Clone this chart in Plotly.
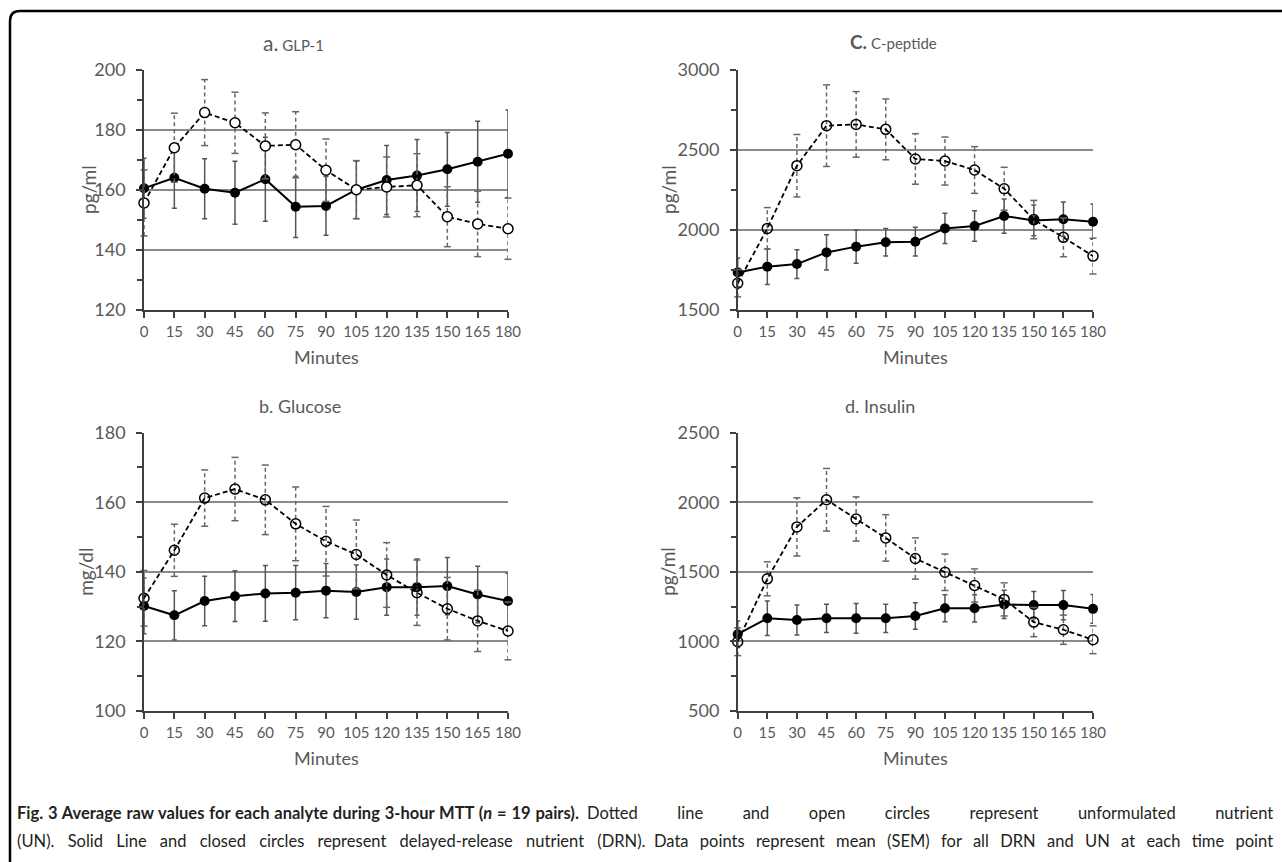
import plotly.graph_objects as go

W, H = 1282, 862

minutes = [0, 15, 30, 45, 60, 75, 90, 105, 120, 135, 150, 165, 180]

# a. GLP-1 (pg/ml)
glp1_drn = [160.6, 164.1, 160.4, 159.1, 163.6, 154.4, 154.7, 160.1, 163.3, 164.8, 166.9, 169.4, 172.1]
glp1_drn_sem = [10, 10.2, 10, 10.5, 14, 10.2, 9.8, 9.6, 11.5, 12, 12.3, 13.5, 14.6]
glp1_un = [155.7, 174.1, 185.8, 182.4, 174.7, 175.1, 166.6, 160.1, 161.0, 161.6, 151.1, 148.7, 147.1]
glp1_un_sem = [11, 11.5, 11, 10.2, 11, 11, 10.4, 9.7, 10, 10.5, 10, 10.9, 10.2]

# c. C-peptide (pg/ml)
cpep_drn = [1735, 1771, 1787, 1860, 1896, 1923, 1927, 2010, 2025, 2087, 2060, 2067, 2052]
cpep_drn_sem = [90, 112, 90, 110, 104, 86, 90, 94, 96, 107, 96, 108, 110]
cpep_un = [1667, 2010, 2402, 2652, 2660, 2629, 2444, 2431, 2375, 2258, 2065, 1954, 1837]
cpep_un_sem = [85, 130, 195, 255, 205, 190, 158, 150, 146, 134, 120, 121, 112]

# b. Glucose (mg/dl)
glu_drn = [130.2, 127.5, 131.6, 133.0, 133.8, 134.0, 134.6, 134.2, 135.6, 135.6, 135.9, 133.5, 131.6]
glu_drn_sem = [8, 7.1, 7.1, 7.3, 8, 7.8, 7.8, 7.8, 8.1, 8.1, 8.2, 8.1, 8]
glu_un = [132.4, 146.2, 161.2, 163.8, 160.7, 153.8, 148.8, 145.0, 139.1, 134.0, 129.4, 125.9, 123.0]
glu_un_sem = [8, 7.5, 8.1, 9.1, 10, 10.6, 10, 9.9, 9.3, 9.4, 9, 8.8, 8.3]

# d. Insulin (pg/ml)
ins_drn = [1052, 1166, 1154, 1166, 1166, 1166, 1183, 1238, 1238, 1266, 1261, 1261, 1234]
ins_drn_sem = [95, 124, 107, 101, 107, 101, 95, 97, 98, 102, 97, 105, 103]
ins_un = [998, 1450, 1823, 2018, 1880, 1744, 1596, 1497, 1402, 1302, 1139, 1084, 1012]
ins_un_sem = [100, 122, 209, 225, 159, 167, 148, 131, 119, 119, 105, 105, 100]

FONT = "Lato"
TXT = "#595959"
AXC = "#404040"
GRID = "#8a8a8a"


def fx(p):
    return p / W


def fy(p):
    return 1 - p / H


panels = [
    ("", glp1_drn, glp1_drn_sem, glp1_un, glp1_un_sem, [120, 200], 20, "pg/ml", True, (144, 508, 70, 310), 88),
    ("2", cpep_drn, cpep_drn_sem, cpep_un, cpep_un_sem, [1500, 3000], 500, "pg/ml", False, (737.7, 1093, 70, 310), 668),
    ("3", glu_drn, glu_drn_sem, glu_un, glu_un_sem, [100, 180], 20, "mg/dl", False, (144, 508, 432.7, 711), 86),
    ("4", ins_drn, ins_drn_sem, ins_un, ins_un_sem, [500, 2500], 500, "pg/ml", False, (737.7, 1093, 432.7, 711), 668),
]

fig = go.Figure()
layout = {}
annotations = []

for key, drn, drn_sem, un, un_sem, yr, dt, ytitle, filled, (x0, x1, y0, y1), ytx in panels:
    xa, ya = "x" + key, "y" + key
    fig.add_trace(go.Scatter(
        x=minutes, y=drn, xaxis=xa, yaxis=ya, mode="lines+markers",
        line=dict(color="black", width=2),
        marker=dict(symbol="circle", size=10, color="black"),
        error_y=dict(type="data", array=drn_sem, visible=True, color="#555555", thickness=1.5, width=2.5),
        cliponaxis=False, showlegend=False))
    ex, ey, cx, cy = [], [], [], []
    for m, v, e in zip(minutes, un, un_sem):
        ex += [m, m, None]
        ey += [v - e, v + e, None]
        cx += [m, m]
        cy += [v - e, v + e]
    fig.add_trace(go.Scatter(
        x=ex, y=ey, xaxis=xa, yaxis=ya, mode="lines",
        line=dict(color="#666666", width=1.5, dash="4px,3px"),
        cliponaxis=False, showlegend=False, hoverinfo="skip"))
    fig.add_trace(go.Scatter(
        x=cx, y=cy, xaxis=xa, yaxis=ya, mode="markers",
        marker=dict(symbol="line-ew", size=5, line=dict(color="#666666", width=1.5)),
        cliponaxis=False, showlegend=False, hoverinfo="skip"))
    if filled:
        mk = dict(symbol="circle", size=10, color="white", line=dict(color="black", width=1.5))
    else:
        mk = dict(symbol="circle-open", size=10, color="black", line=dict(width=1.5))
    fig.add_trace(go.Scatter(
        x=minutes, y=un, xaxis=xa, yaxis=ya, mode="lines+markers",
        line=dict(color="black", width=1.8, dash="5px,3px"),
        marker=mk, cliponaxis=False, showlegend=False))

    xname = "xaxis" + key
    yname = "yaxis" + key
    layout[xname] = dict(
        domain=[fx(x0), fx(x1)], range=[0, 180], anchor=ya, automargin=False,
        tickmode="array", tickvals=minutes, ticktext=[str(m) for m in minutes],
        ticks="outside", ticklen=6, tickwidth=1.5, tickcolor=AXC,
        showline=True, linecolor=AXC, linewidth=1.5, showgrid=False, zeroline=False,
        tickfont=dict(family=FONT, size=15, color=TXT), ticklabelstandoff=1)
    layout[yname] = dict(
        domain=[fy(y1), fy(y0)], range=yr, anchor=xa, dtick=dt, automargin=False,
        ticks="outside", ticklen=6, tickwidth=1.5, tickcolor=AXC,
        showline=True, linecolor=AXC, linewidth=1.5,
        showgrid=True, gridcolor=GRID, gridwidth=1.5, zeroline=False,
        minor=dict(dtick=dt / 2, ticks="outside", ticklen=5, tickwidth=1.5, tickcolor=AXC, showgrid=False),
        tickfont=dict(family=FONT, size=18, color=TXT), ticklabelstandoff=7)
    annotations.append(dict(
        text=ytitle, x=fx(ytx), y=fy((y0 + y1) / 2), xref="paper", yref="paper",
        textangle=-90, showarrow=False, xanchor="center", yanchor="middle",
        font=dict(family=FONT, size=19, color=TXT)))
    annotations.append(dict(
        text="Minutes", x=fx((x0 + x1) / 2), y=fy(y1 + 47), xref="paper", yref="paper",
        showarrow=False, xanchor="center", yanchor="middle",
        font=dict(family=FONT, size=18, color=TXT)))

titles = [
    ("<span style='font-size:21px'>a.</span> GLP-1", 293, 42, 15),
    ("<b><span style='font-size:19px'>C.</span></b> C-peptide", 893, 41, 15),
    ("b. Glucose", 300, 406, 18),
    ("d. Insulin", 880, 406, 18),
]
for t, px, py, fs in titles:
    annotations.append(dict(
        text=t, x=fx(px), y=fy(py), xref="paper", yref="paper", showarrow=False,
        xanchor="center", yanchor="middle", font=dict(family=FONT, size=fs, color=TXT)))

# caption, in chunks with word spacing to mimic the justified text
cap_bold = "Fig. 3 Average raw values for each analyte during 3-hour MTT (<i>n</i> = 19 pairs)."
cap_line1 = "Dotted line and open circles represent unformulated nutrient"
cap_line2a = "(UN). Solid Line and closed circles represent delayed-release nutrient (DRN)."
cap_line2b = "Data points represent mean (SEM) for all DRN and UN at each time point"
caps = [
    ("<b>" + cap_bold + "</b>", 15, 813, 0.8, "left"),
    (cap_line1, 1275, 813, 35.3, "right"),
    (cap_line2a, 15, 841, 9, "left"),
    (cap_line2b, 1275, 841, 7.1, "right"),
]
for t, px, py, ws, anc in caps:
    annotations.append(dict(
        text=f"<span style='word-spacing:{ws}px'>{t}</span>", x=fx(px), y=fy(py),
        xref="paper", yref="paper", showarrow=False, xanchor=anc, yanchor="middle",
        font=dict(family=FONT, size=16.5, color="#231f20")))

r = 10
path = (f"M {fx(10)},{fy(H + 5)} L {fx(10)},{fy(11 + r)} "
        f"Q {fx(10)},{fy(11)} {fx(10 + r)},{fy(11)} L {fx(W + 5)},{fy(11)}")

fig.update_layout(
    width=W, height=H, margin=dict(l=0, r=0, t=0, b=0, autoexpand=False),
    paper_bgcolor="white", plot_bgcolor="white",
    annotations=annotations,
    shapes=[dict(type="path", path=path, xref="paper", yref="paper",
                 line=dict(color="black", width=2.5))],
    **layout)

fig.write_html("out.html", config={"displayModeBar": False},
               post_script="document.body.style.margin='0';document.body.style.overflow='hidden';")
